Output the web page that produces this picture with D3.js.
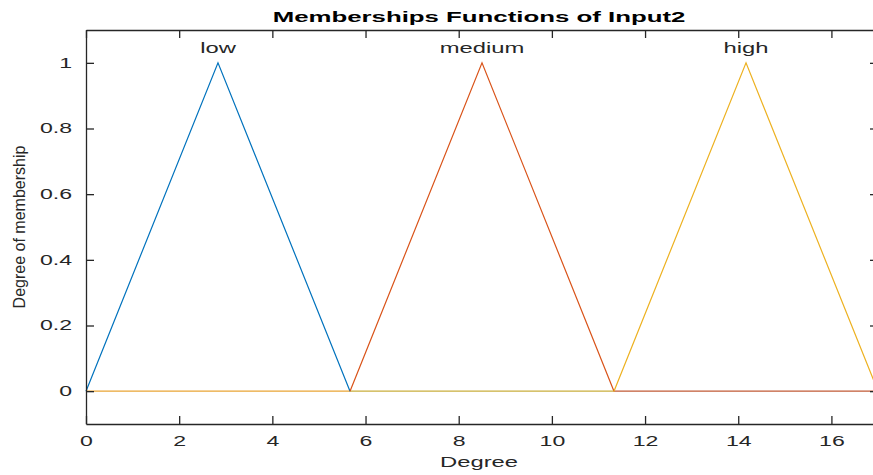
<!DOCTYPE html>
<html><head><meta charset="utf-8">
<script src="https://cdn.jsdelivr.net/npm/d3@7"></script>
<style>body{margin:0;background:#fff}svg{display:block}text{fill:#262626}</style>
</head><body>
<svg id="c" width="873" height="475"></svg>
<script>
const mfNames = ["low", "medium", "high"];
const mfParams = [[0, 2.833, 5.667], [5.667, 8.5, 11.333], [11.333, 14.167, 17]];
const mfColors = ["#0072BD", "#D95319", "#EDB120"];
const baselineSegments = [[0, 5.667], [5.667, 11.333], [11.333, 17]];
const baselineColors = ["#E9A434", "#C9AE3C", "#C15A36"];
const xTicks = [0, 2, 4, 6, 8, 10, 12, 14, 16];
const yTicks = [0, 0.2, 0.4, 0.6, 0.8, 1];
const xDomain = [0, 17];
const yDomain = [-0.1, 1.1];

const svg = d3.select("#c");
const L = 86, R = 878, T = 30, B = 424;
const x = d3.scaleLinear().domain(xDomain).range([L, R]);
const y = d3.scaleLinear().domain(yDomain).range([B, T]);
const axisColor = "#262626";
const font = "'Liberation Sans', Arial, sans-serif";
const SX = 1.65;

function wideText(px, py, str, opts) {
  const t = svg.append("text")
    .attr("transform", `translate(${px},${py}) scale(${opts.sx || SX},1)`)
    .attr("text-anchor", opts.anchor || "middle")
    .attr("font-family", font)
    .attr("font-size", opts.size || 14)
    .text(str);
  if (opts.bold) t.attr("font-weight", "bold").attr("fill", "#000").style("fill", "#000");
  return t;
}

// baseline (zero parts of all mfs overlapping)
baselineSegments.forEach((s, i) => {
  svg.append("line").attr("x1", x(s[0])).attr("x2", x(s[1]))
    .attr("y1", y(0)).attr("y2", y(0))
    .attr("stroke", baselineColors[i]).attr("stroke-width", 1.2);
});

const line = d3.line().x(d => x(d[0])).y(d => y(d[1]));
mfParams.forEach((p, i) => {
  svg.append("path").datum([[p[0], 0], [p[1], 1], [p[2], 0]])
    .attr("d", line).attr("fill", "none")
    .attr("stroke", mfColors[i]).attr("stroke-width", 1.2);
  wideText(x(p[1]), y(1) - 10, mfNames[i], {size: 14, sx: 1.7});
});

// axes (box with inward ticks)
const tickLen = 8;
const gx = svg.append("g").attr("transform", `translate(0,${B})`)
  .call(d3.axisBottom(x).tickValues(xTicks).tickSizeInner(-tickLen).tickSizeOuter(0).tickPadding(12).tickFormat(d3.format("d")));
const gxt = svg.append("g").attr("transform", `translate(0,${T})`)
  .call(d3.axisTop(x).tickValues(xTicks).tickSizeInner(-tickLen).tickSizeOuter(0).tickFormat(""));
const gy = svg.append("g").attr("transform", `translate(${L},0)`)
  .call(d3.axisLeft(y).tickValues(yTicks).tickSizeInner(-tickLen).tickSizeOuter(0).tickPadding(14).tickFormat(d => d3.format("")(d)));
const gyr = svg.append("g").attr("transform", `translate(${R},0)`)
  .call(d3.axisRight(y).tickValues(yTicks).tickSizeInner(-tickLen).tickSizeOuter(0).tickFormat(""));
[gx, gxt, gy, gyr].forEach(g => {
  g.selectAll("path.domain").attr("stroke", axisColor).attr("stroke-width", 1.3);
  g.selectAll(".tick line").attr("stroke", axisColor).attr("stroke-width", 1.3);
  g.selectAll(".tick text").attr("font-family", font).attr("font-size", 14).attr("fill", axisColor);
});
gx.selectAll(".tick text").attr("transform", `scale(${SX},1)`);
gy.selectAll(".tick text").each(function() {
  const t = d3.select(this);
  t.attr("x", +t.attr("x") / SX).attr("transform", `scale(${SX},1)`);
});

wideText((L + 872) / 2, 22, "Memberships Functions of Input2", {size: 15, sx: 1.72, bold: true});
wideText((L + 872) / 2, 467, "Degree", {size: 14, sx: 1.7});
svg.append("text").attr("transform", `translate(25,${(T + B) / 2 - 0}) rotate(-90)`)
  .attr("text-anchor", "middle").attr("font-family", "'Liberation Sans Narrow', 'Arial Narrow', sans-serif")
  .attr("font-size", 16).text("Degree of membership");
</script>
</body></html>
